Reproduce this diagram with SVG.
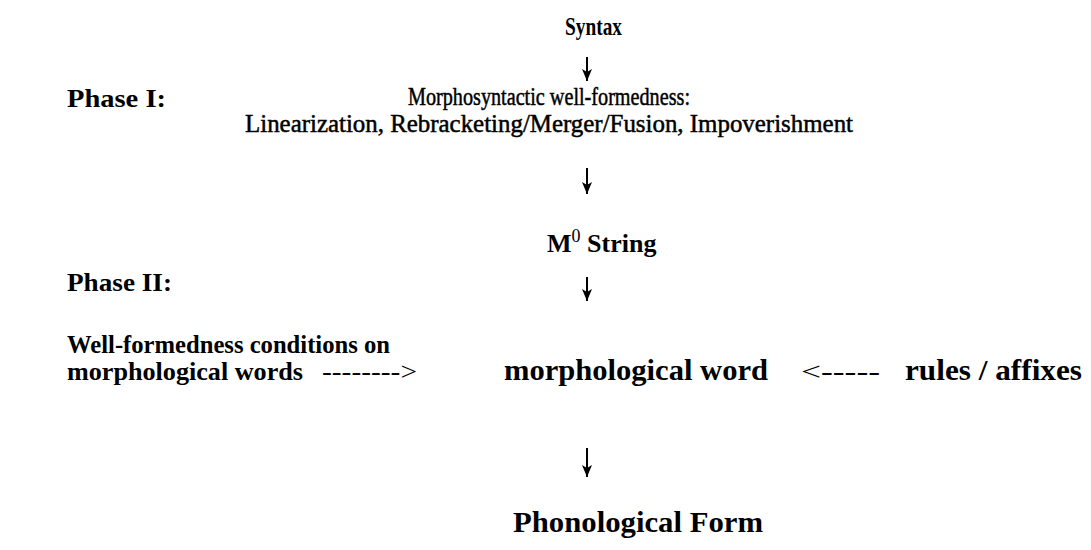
<svg xmlns="http://www.w3.org/2000/svg" width="1091" height="550" viewBox="0 0 1091 550">
<defs>
<style>
text{font-family:"Liberation Serif","Times New Roman",serif;font-size:26px;fill:#000;font-weight:bold}
.r{font-weight:normal;stroke:#000;stroke-width:0.5}
.big{font-size:29px}
.arr{stroke:#000;stroke-width:2;fill:none}
.dash{font-weight:normal}
</style>
<marker id="ah" viewBox="0 0 12 10" refX="12" refY="5" markerWidth="12" markerHeight="10" markerUnits="userSpaceOnUse" orient="auto">
<path d="M0,0 L12,5 L0,10 L3,5 Z" fill="#000"/>
</marker>
</defs>
<rect width="1091" height="550" fill="#fff"/>
<g id="syntax"><text x="565" y="35" font-size="28" textLength="57" lengthAdjust="spacingAndGlyphs">Syntax</text></g>
<g id="phase1"><text x="67" y="107" textLength="99" lengthAdjust="spacingAndGlyphs">Phase I:</text></g>
<g id="morphosyntactic">
<text class="r" x="408" y="105" textLength="282" lengthAdjust="spacingAndGlyphs">Morphosyntactic well-formedness:</text>
<text class="r" x="245" y="132" textLength="608" lengthAdjust="spacingAndGlyphs">Linearization, Rebracketing/Merger/Fusion, Impoverishment</text>
</g>
<g id="m0string"><text x="547" y="252">M<tspan font-size="18" font-weight="normal" dy="-10">0</tspan><tspan dy="10"> String</tspan></text></g>
<g id="phase2"><text x="67" y="291" textLength="105" lengthAdjust="spacingAndGlyphs">Phase II:</text></g>
<g id="conditions">
<text x="67" y="353" textLength="323" lengthAdjust="spacingAndGlyphs">Well-formedness conditions on</text>
<text x="67" y="380" textLength="236" lengthAdjust="spacingAndGlyphs">morphological words</text>
</g>
<g id="mword"><text class="big" x="504" y="380" textLength="264" lengthAdjust="spacingAndGlyphs">morphological word</text></g>
<g id="rules"><text class="big" x="905" y="380" textLength="177" lengthAdjust="spacingAndGlyphs">rules / affixes</text></g>
<g id="pf"><text class="big" x="513" y="532" textLength="250" lengthAdjust="spacingAndGlyphs">Phonological Form</text></g>
<g id="connectors">
<line class="arr" x1="587" y1="57" x2="587" y2="81" marker-end="url(#ah)"/>
<line class="arr" x1="587" y1="168" x2="587" y2="194" marker-end="url(#ah)"/>
<line class="arr" x1="587" y1="277" x2="587" y2="301" marker-end="url(#ah)"/>
<line class="arr" x1="587" y1="448" x2="587" y2="477" marker-end="url(#ah)"/>
<text class="dash" x="322" y="380" textLength="95" lengthAdjust="spacingAndGlyphs">--------&gt;</text>
<text class="dash" x="801" y="380" textLength="79" lengthAdjust="spacingAndGlyphs">&lt;-----</text>
</g>
</svg>
